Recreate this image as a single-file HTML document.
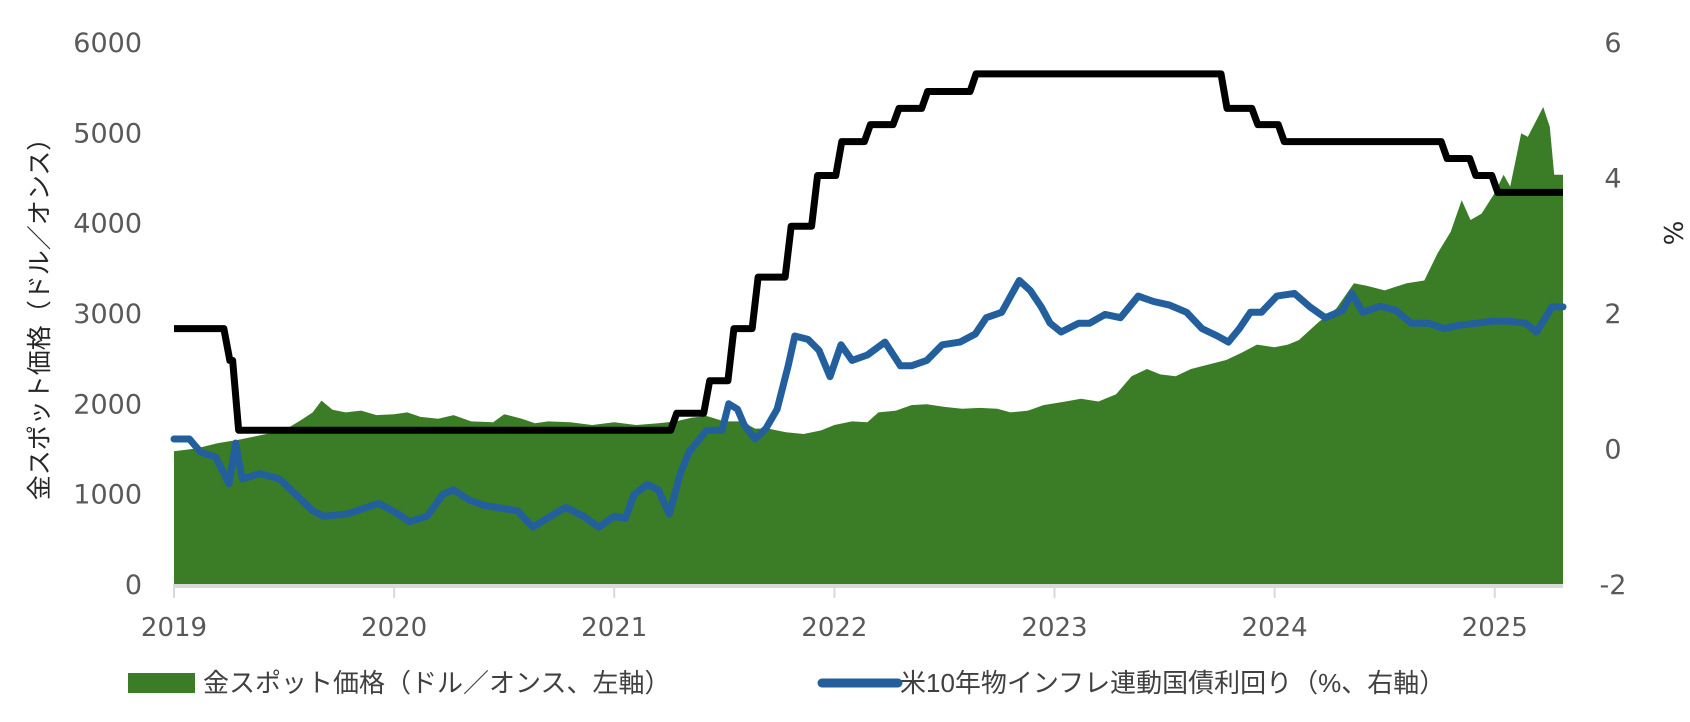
<!DOCTYPE html>
<html><head><meta charset="utf-8">
<style>
html,body{margin:0;padding:0;background:#fff;}
svg{display:block;font-family:"Liberation Sans","Noto Sans CJK JP",sans-serif;}
.tk{font-family:"DejaVu Sans","Liberation Sans",sans-serif;}
</style></head>
<body>
<svg id="chart" width="1690" height="722" viewBox="0 0 1690 722" xmlns="http://www.w3.org/2000/svg">
<g id="plot"></g>
<g id="axes"></g>
<text transform="translate(48,313) rotate(-90)" text-anchor="middle" font-size="25" fill="#262626">金スポット価格（ドル／オンス）</text>
<text transform="translate(1664,233) rotate(90)" text-anchor="middle" font-size="26" fill="#262626" class="tk">%</text>
<g>
<rect x="128" y="673" width="67" height="20" fill="#3a7d26"/>
<text x="203" y="692" font-size="26" fill="#404040">金スポット価格（ドル／オンス、左軸）</text>
<line x1="822" y1="683" x2="898" y2="683" stroke="#225f9c" stroke-width="9" stroke-linecap="round"/>
<text x="900" y="692" font-size="26" fill="#404040">米10年物インフレ連動国債利回り（%、右軸）</text>
</g>
</svg>
<script>
const goldYears=[2019.0,2019.1,2019.2,2019.3,2019.4,2019.5,2019.58,2019.63,2019.67,2019.72,2019.78,2019.85,2019.92,2020.0,2020.06,2020.12,2020.2,2020.27,2020.35,2020.45,2020.5,2020.58,2020.64,2020.7,2020.8,2020.9,2021.0,2021.1,2021.2,2021.28,2021.35,2021.42,2021.5,2021.58,2021.64,2021.7,2021.78,2021.86,2021.94,2022.0,2022.08,2022.15,2022.2,2022.28,2022.35,2022.42,2022.5,2022.58,2022.66,2022.74,2022.8,2022.88,2022.95,2023.05,2023.12,2023.2,2023.28,2023.35,2023.42,2023.48,2023.55,2023.62,2023.7,2023.78,2023.85,2023.92,2024.0,2024.06,2024.11,2024.2,2024.28,2024.36,2024.42,2024.5,2024.6,2024.68,2024.74,2024.8,2024.85,2024.89,2024.94,2025.0,2025.04,2025.07,2025.12,2025.15,2025.22,2025.25,2025.27,2025.31];
const goldValues=[1470,1500,1560,1600,1650,1700,1820,1900,2030,1930,1900,1920,1870,1880,1900,1850,1830,1870,1800,1790,1880,1830,1780,1800,1790,1760,1790,1760,1780,1800,1840,1860,1800,1800,1720,1720,1680,1660,1700,1760,1800,1790,1900,1920,1980,1990,1960,1940,1950,1940,1900,1920,1980,2020,2050,2020,2100,2300,2380,2320,2300,2380,2430,2480,2560,2650,2620,2650,2700,2900,3050,3330,3300,3250,3330,3360,3660,3900,4250,4030,4100,4330,4530,4400,4990,4950,5280,5060,4530,4530];
const policyYears=[2019.0,2019.24,2019.28,2021.27,2021.42,2021.53,2021.64,2021.79,2021.91,2022.02,2022.15,2022.28,2022.41,2022.63,2023.77,2023.91,2024.03,2024.77,2024.9,2025.0];
const policyValues=[1.77,1.3,0.27,0.52,1.0,1.77,2.53,3.28,4.03,4.53,4.78,5.02,5.27,5.53,5.02,4.78,4.53,4.28,4.03,3.78];
const yieldYears=[2019.00,2019.07,2019.12,2019.19,2019.25,2019.28,2019.31,2019.39,2019.48,2019.53,2019.63,2019.68,2019.78,2019.83,2019.93,2020.02,2020.07,2020.15,2020.22,2020.27,2020.34,2020.41,2020.56,2020.63,2020.71,2020.78,2020.86,2020.93,2021.00,2021.05,2021.09,2021.15,2021.20,2021.25,2021.30,2021.34,2021.42,2021.49,2021.52,2021.56,2021.59,2021.64,2021.69,2021.74,2021.79,2021.82,2021.88,2021.93,2021.98,2022.03,2022.08,2022.15,2022.23,2022.30,2022.35,2022.42,2022.49,2022.57,2022.64,2022.69,2022.76,2022.84,2022.89,2022.94,2022.98,2023.03,2023.11,2023.16,2023.23,2023.30,2023.38,2023.45,2023.52,2023.60,2023.67,2023.74,2023.79,2023.84,2023.89,2023.94,2024.01,2024.09,2024.16,2024.23,2024.31,2024.35,2024.40,2024.48,2024.55,2024.62,2024.70,2024.77,2024.84,2024.92,2024.99,2025.06,2025.14,2025.19,2025.26,2025.31];
const yieldValues=[0.14,0.14,-0.05,-0.13,-0.52,0.08,-0.45,-0.37,-0.45,-0.61,-0.92,-1.00,-0.97,-0.92,-0.81,-0.97,-1.08,-1.00,-0.68,-0.61,-0.76,-0.84,-0.92,-1.16,-1.00,-0.87,-1.00,-1.16,-1.00,-1.03,-0.68,-0.53,-0.61,-0.97,-0.37,-0.05,0.27,0.27,0.66,0.58,0.35,0.14,0.30,0.58,1.22,1.66,1.61,1.45,1.06,1.53,1.30,1.38,1.57,1.22,1.22,1.30,1.53,1.57,1.69,1.93,2.01,2.48,2.33,2.09,1.85,1.72,1.85,1.85,1.98,1.93,2.25,2.17,2.12,2.01,1.77,1.66,1.57,1.77,2.01,2.01,2.25,2.29,2.09,1.93,2.04,2.29,2.01,2.10,2.04,1.85,1.85,1.77,1.82,1.85,1.88,1.88,1.85,1.72,2.09,2.09];
const leftTicks=[0,1000,2000,3000,4000,5000,6000];
const rightTicks=[-2,0,2,4,6];
const xTicks=[2019,2020,2021,2022,2023,2024,2025];

const X0=174,X1=1563,T0=2019,T1=2025.31,YT=42,YB=584;
const xs=t=>X0+(t-T0)/(T1-T0)*(X1-X0);
const yL=v=>YB-v/6000*(YB-YT);
const yR=v=>YB-(v+2)/8*(YB-YT);
const NS='http://www.w3.org/2000/svg';
function mk(tag,attrs,parent){const e=document.createElementNS(NS,tag);for(const k in attrs)e.setAttribute(k,attrs[k]);parent.appendChild(e);return e;}
const plot=document.getElementById('plot'),axes=document.getElementById('axes');

let d='M'+xs(goldYears[0])+','+yL(0);
goldYears.forEach((t,i)=>{d+=' L'+xs(t).toFixed(1)+','+yL(goldValues[i]).toFixed(1);});
d+=' L'+xs(goldYears[goldYears.length-1])+','+yL(0)+' Z';
const area=mk('path',{d:d,fill:'#3a7d26'},plot);



let pd='';
policyYears.forEach((t,i)=>{
  const y=yR(policyValues[i]);
  if(i===0)pd+='M'+xs(t)+','+y;
  else pd+=' L'+(xs(t)-3)+','+yR(policyValues[i-1])+' L'+(xs(t)+3)+','+y;
});
pd+=' L'+xs(T1)+','+yR(policyValues[policyValues.length-1]);
const pol=mk('path',{d:pd,fill:'none',stroke:'#000','stroke-width':7,'stroke-linejoin':'round'},plot);



const yd=yieldYears.map((t,i)=>(i?'L':'M')+xs(t).toFixed(1)+','+yR(yieldValues[i]).toFixed(1)).join(' ');
const yl=mk('path',{d:yd,fill:'none',stroke:'#225f9c','stroke-width':7,'stroke-linejoin':'round','stroke-linecap':'round'},plot);



const ax=mk('line',{x1:X0,y1:YB+2,x2:X1,y2:YB+2,stroke:'#d9d9d9','stroke-width':4},axes);


xTicks.forEach(t=>{
  const tk=mk('line',{x1:xs(t),y1:YB,x2:xs(t),y2:YB+14,stroke:'#d9d9d9','stroke-width':2},axes);
  
  
  const lb=mk('text',{x:xs(t),y:636,'text-anchor':'middle','font-size':26,fill:'#595959','class':'tk'},axes);
  lb.textContent=t;
  
  
});
leftTicks.forEach(v=>{
  const lb=mk('text',{x:142,y:yL(v)+10,'text-anchor':'end','font-size':27,fill:'#595959','class':'tk'},axes);
  lb.textContent=v;
  
  
});
rightTicks.forEach(v=>{
  const lb=mk('text',{x:1613,y:yR(v)+10,'text-anchor':'middle','font-size':27,fill:'#595959','class':'tk'},axes);
  lb.textContent=v;
  
  
});
</script>
</body></html>
